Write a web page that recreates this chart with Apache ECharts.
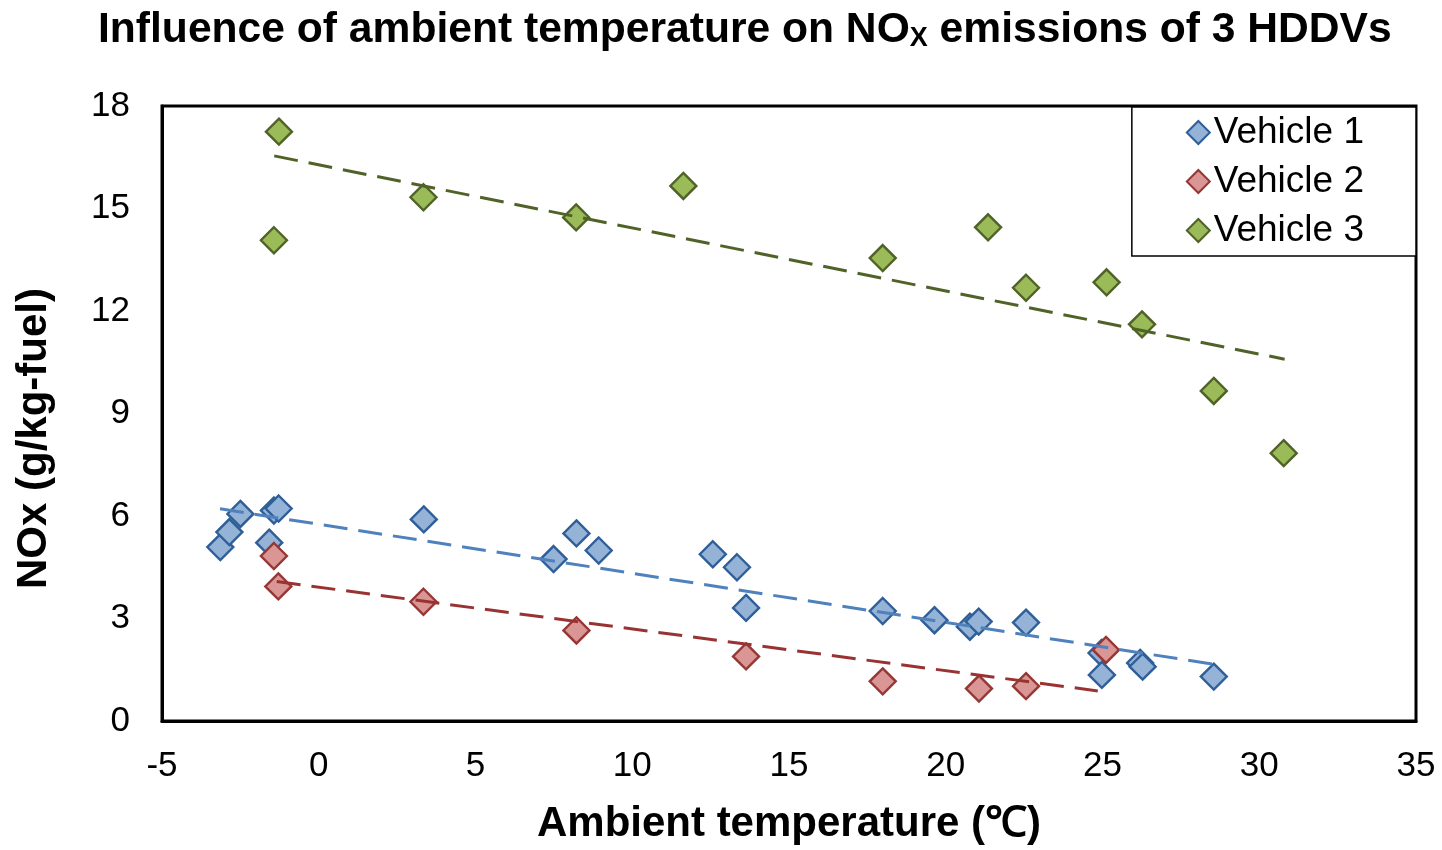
<!DOCTYPE html>
<html>
<head>
<meta charset="utf-8">
<script src="https://cdn.jsdelivr.net/npm/echarts@6/dist/echarts.min.js"></script>
<style>
  html, body { margin: 0; padding: 0; background: #fff; }
  #chart { width: 1442px; height: 850px; }
</style>
</head>
<body>
<div id="chart"></div>
<script>
// values
var v1Temp = [-3.14, -2.85, -2.50, -1.58, -1.43, -1.28, 3.35, 7.49, 8.22, 8.93, 12.57, 13.34, 13.63, 17.99, 19.64, 20.77, 21.05, 22.56, 24.97, 24.98, 26.20, 26.28, 28.55]
var v1Nox  = [5.09, 5.53, 6.06, 5.22, 6.16, 6.22, 5.90, 4.74, 5.49, 4.99, 4.88, 4.50, 3.31, 3.22, 2.95, 2.76, 2.91, 2.88, 1.99, 1.35, 1.70, 1.59, 1.30]

var v2Temp = [-1.43, -1.29, 3.34, 8.22, 13.63, 17.99, 21.06, 22.56, 25.11]
var v2Nox  = [4.83, 3.94, 3.49, 2.65, 1.89, 1.16, 0.95, 1.02, 2.08]

var v3Temp = [-1.27, -1.43, 3.34, 8.21, 11.63, 17.99, 21.35, 22.56, 25.13, 26.26, 28.55, 30.78]
var v3Nox  = [17.25, 14.07, 15.33, 14.74, 15.66, 13.55, 14.45, 12.68, 12.84, 11.61, 9.66, 7.84]

// trendline ends (temp, NOx)
var trend1Temp = [-3.15, 28.55]
var trend1Nox  = [6.21, 1.66]
var trend2Temp = [-1.34, 24.85]
var trend2Nox  = [4.08, 0.88]
var trend3Temp = [-1.42, 30.81]
var trend3Nox  = [16.54, 10.59]

var seriesNames = ['Vehicle 1', 'Vehicle 2', 'Vehicle 3']

var FONT = 'Liberation Sans, Arial, sans-serif'

const pairs = (xs, ys) => xs.map((x, i) => [x, ys[i]])

const scatter = (name, xs, ys, fill, edge) => ({
  name: name,
  type: 'scatter',
  symbol: 'diamond',
  symbolSize: 26,
  data: pairs(xs, ys),
  itemStyle: { color: fill, borderColor: edge, borderWidth: 2.4, opacity: 1 },
  emphasis: { disabled: true }
})

const trend = (xs, ys, color) => ({
  type: 'line',
  data: pairs(xs, ys),
  symbol: 'none',
  silent: true,
  lineStyle: { color: color, width: 3, type: [24, 11] },
  z: 3
})

var chart = echarts.init(document.getElementById('chart'))
chart.setOption({
  animation: false,
  backgroundColor: '#fff',
  title: {
    text: 'Influence of ambient temperature on NO{sub|X} emissions of 3 HDDVs',
    left: 93,
    top: 4,
    textStyle: {
      fontFamily: FONT, fontSize: 42.6, fontWeight: 'bold', color: '#000',
      rich: {
        sub: { fontFamily: FONT, fontSize: 27, fontWeight: 'bold', color: '#000', verticalAlign: 'bottom', padding: [16, 0, 0, 0] }
      }
    }
  },
  grid: {
    left: 162, width: 1254, top: 106, height: 623,
    show: true, borderColor: '#000', borderWidth: 3, backgroundColor: 'transparent'
  },
  legend: {
    data: seriesNames,
    orient: 'vertical',
    right: 26,
    top: 107,
    icon: 'diamond',
    itemWidth: 23,
    itemHeight: 23,
    itemGap: 12,
    padding: [7, 52, 7, 54],
    backgroundColor: '#fff',
    borderColor: '#000',
    borderWidth: 1.5,
    textStyle: { fontFamily: FONT, fontSize: 37, color: '#000', padding: [0, 0, 0, -1] }
  },
  xAxis: {
    type: 'value',
    min: -5, max: 35, interval: 5,
    name: 'Ambient temperature (\u2103)',
    nameLocation: 'middle',
    nameGap: 82,
    nameTextStyle: { fontFamily: FONT, fontSize: 42, fontWeight: 'bold', color: '#000' },
    axisLine: { show: true, onZero: false, lineStyle: { color: '#000', width: 3 } },
    axisTick: { show: false },
    splitLine: { show: false },
    axisLabel: { fontFamily: FONT, fontSize: 35, color: '#000', margin: 28 }
  },
  yAxis: {
    type: 'value',
    min: 0, max: 18, interval: 3,
    name: 'NOx (g/kg-fuel)',
    nameLocation: 'middle',
    nameGap: 107,
    nameTextStyle: { fontFamily: FONT, fontSize: 42, fontWeight: 'bold', color: '#000', padding: [0, 50, 0, 0] },
    axisLine: { show: true, onZero: false, lineStyle: { color: '#000', width: 3 } },
    axisTick: { show: false },
    splitLine: { show: false },
    axisLabel: { fontFamily: FONT, fontSize: 35, color: '#000', margin: 32 }
  },
  series: [
    scatter(seriesNames[0], v1Temp, v1Nox, '#95B3D7', '#2F5F98'),
    scatter(seriesNames[1], v2Temp, v2Nox, '#D99694', '#953735'),
    scatter(seriesNames[2], v3Temp, v3Nox, '#9BBB59', '#4F6228'),
    trend(trend1Temp, trend1Nox, '#4F81BD'),
    trend(trend2Temp, trend2Nox, '#993333'),
    trend(trend3Temp, trend3Nox, '#4F6228')
  ]
})
</script>
</body>
</html>
